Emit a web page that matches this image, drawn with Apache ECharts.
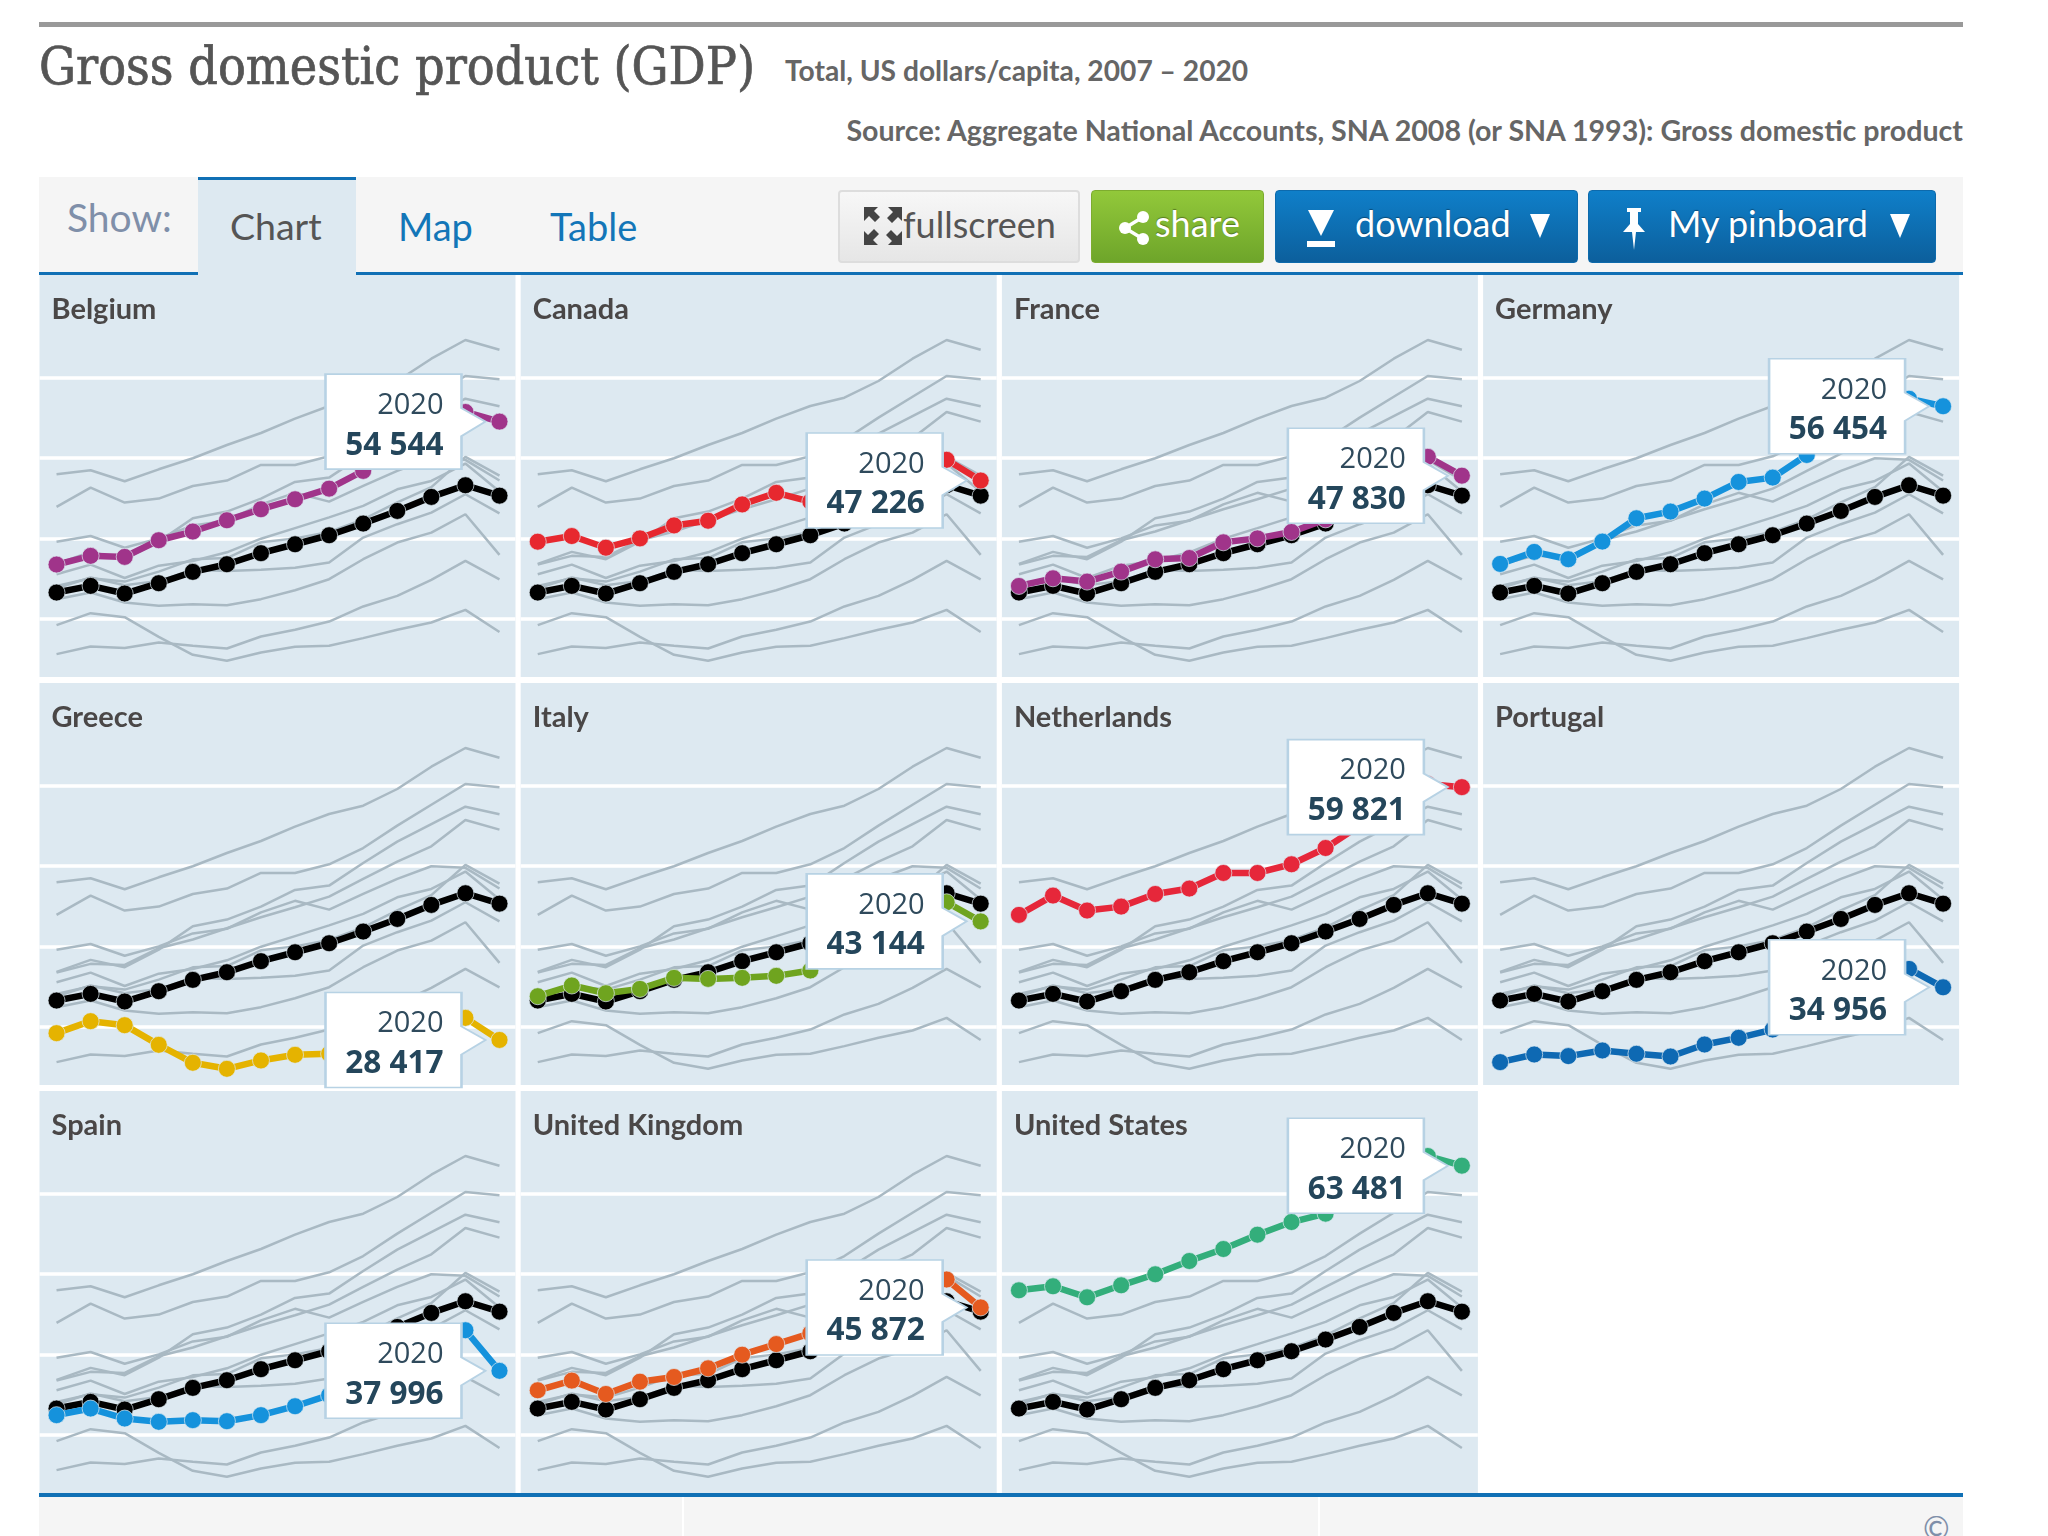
<!DOCTYPE html>
<html lang="en">
<head>
<meta charset="UTF-8">
<title>Gross domestic product (GDP)</title>
<script src="https://cdn.jsdelivr.net/npm/echarts@6/dist/echarts.min.js"></script>
<style>
    html, body { margin: 0; padding: 0; background: #fff; }
    #page { position: relative; width: 2048px; height: 1536px; overflow: hidden; font-family: Lato, "Open Sans", sans-serif; }
    #main { position: absolute; left: 0; top: 0; width: 2048px; height: 1536px; }
    .abs { position: absolute; white-space: nowrap; }
    .btn { position: absolute; top: 190px; height: 73px; border-radius: 4px; box-sizing: border-box; line-height: 65px; font-size: 36px; color: #fff; text-shadow: 0 -1px 1px rgba(0,0,0,.35); white-space: nowrap; }
    .btn svg, .btn span { position: absolute; }
    .blue { background: linear-gradient(#0f7fc9, #0c5f9c); border: 1px solid #0d6aac; }
</style>
</head>
<body>
<div id="page">
    <div class="abs" style="left:39px;top:22px;width:1924px;height:5px;background:#999"></div>
    <div class="abs" style="left:39px;top:34px;font:51.5px 'DejaVu Serif Condensed','DejaVu Serif',serif;color:#555;line-height:64px;-webkit-text-stroke:0.7px #555">Gross domestic product (GDP)</div>
    <div class="abs" style="left:785px;top:52px;font-size:28.2px;font-weight:700;color:#666;line-height:36px">Total, US dollars/capita, 2007 – 2020</div>
    <div class="abs" style="right:85px;top:111px;font-size:28.6px;font-weight:700;color:#666;line-height:38px">Source: Aggregate National Accounts, SNA 2008 (or SNA 1993): Gross domestic product</div>

    <div class="abs" style="left:39px;top:177px;width:1924px;height:95px;background:#f5f5f5"></div>
    <div class="abs" style="left:39px;top:272px;width:1924px;height:3px;background:#1070b5"></div>
    <div class="abs" style="left:198px;top:177px;width:158px;height:98px;background:#dde9f1;border-top:3px solid #1070b5;box-sizing:border-box"></div>
    <div class="abs" style="left:67px;top:195px;font-size:39px;color:#7f8fa9;line-height:44px">Show:</div>
    <div class="abs" style="left:230px;top:203px;font-size:37.5px;color:#555;line-height:46px">Chart</div>
    <div class="abs" style="left:398px;top:203px;font-size:38px;color:#1376b8;line-height:46px">Map</div>
    <div class="abs" style="left:550px;top:203px;font-size:38px;color:#1376b8;line-height:46px">Table</div>

    <div class="btn" style="left:838px;width:242px;background:linear-gradient(#f7f7f7,#e6e6e6);border:2px solid #ddd;color:#555;text-shadow:none">
        <svg style="left:24px;top:15px" width="38" height="38" viewBox="0 0 38 38" fill="#444"><path d="M0 0h14l-4 4 6 6-5 5-6-6-5 5zM38 0v14l-4-4-6 6-5-5 6-6-5-5zM0 38V24l4 4 6-6 5 5-6 6 5 5zM38 38H24l4-4-6-6 5-5 6 6 5-5z"/></svg>
        <span style="left:63px">fullscreen</span>
    </div>
    <div class="btn" style="left:1091px;width:173px;background:linear-gradient(#92c83a,#6ea52a);border:1px solid #7dac2f">
        <svg style="left:27px;top:20px" width="30" height="34" viewBox="0 0 30 34" fill="#fff"><circle cx="6" cy="17" r="6"/><circle cx="24" cy="6" r="6"/><circle cx="24" cy="28" r="6"/><path d="M6 17L24 6M6 17l18 11" stroke="#fff" stroke-width="3.5"/></svg>
        <span style="left:63px">share</span>
    </div>
    <div class="btn blue" style="left:1275px;width:303px">
        <svg style="left:30px;top:19px" width="30" height="38" viewBox="0 0 30 38" fill="#fff"><path d="M2 0h26L15 26zM1 31h28v6H1z"/></svg>
        <span style="left:79px">download</span>
        <svg style="left:254px;top:23px" width="20" height="24" viewBox="0 0 20 24" fill="#fff"><path d="M0 0h20L10 24z"/></svg>
    </div>
    <div class="btn blue" style="left:1588px;width:348px">
        <svg style="left:33px;top:17px" width="24" height="42" viewBox="0 0 24 42" fill="#fff"><path d="M5 0h14v4h-3v12l7 8H1l7-8V4H5zM10 24h4l-2 18z"/></svg>
        <span style="left:79px">My pinboard</span>
        <svg style="left:301px;top:23px" width="20" height="24" viewBox="0 0 20 24" fill="#fff"><path d="M0 0h20L10 24z"/></svg>
    </div>

    <div class="abs" style="left:39px;top:1493px;width:1924px;height:4px;background:#1070b5"></div>
    <div class="abs" style="left:39px;top:1497px;width:1924px;height:39px;background:#f5f5f5"></div>
    <div class="abs" style="left:682px;top:1497px;width:2px;height:39px;background:#fff"></div>
    <div class="abs" style="left:1318px;top:1497px;width:2px;height:39px;background:#fff"></div>
    <div class="abs" style="left:1923px;top:1510px;font-size:32px;color:#7f8fa9;line-height:36px">©</div>

    <div id="main"></div>
</div>

<script>
    const years = [2007,2008,2009,2010,2011,2012,2013,2014,2015,2016,2017,2018,2019,2020];

    // values, the 2020 ones are the printed labels
    const belgium = [36790,37870,37740,39810,40890,42290,43660,44900,46220,48420,50570,52470,55740,54544];
    const canada = [39630,40330,38880,40040,41650,42230,44260,45700,44610,46550,48420,49990,49800,47226];
    const france = [34130,35080,34670,35910,37440,37600,39550,40040,40830,42400,44500,46400,50170,47830];
    const germany = [36870,38360,37450,39640,42540,43370,44980,47050,47590,50400,53050,55240,57390,56454];
    const greece = [29260,30750,30250,27810,25580,24830,25870,26570,26700,27650,28680,29590,31160,28417];
    const italy = [33850,35180,34220,34760,36130,36000,36130,36380,37040,40140,41800,43240,45520,43144];
    const netherlands = [43950,46350,44490,44980,46550,47220,49160,49160,50240,52260,55040,57640,60210,59821];
    const portugal = [25660,26610,26410,27110,26700,26360,27850,28680,29710,31580,32900,34890,37240,34956];
    const spain = [32490,33310,32070,31660,31870,31740,32490,33600,34970,37450,39520,40760,43040,37996];
    const unitedKingdom = [35580,36780,35120,36650,37230,38310,40000,41320,42650,44070,46140,47170,49340,45872];
    const unitedStates = [48000,48500,47130,48620,49990,51640,53130,54910,56480,57520,59590,62360,64680,63481];
    const oecdTotal = [33310,34140,33190,34470,35880,36830,38200,39310,40430,41880,43450,45190,46640,45350];

    const countryNames = ['Belgium','Canada','France','Germany','Greece','Italy','Netherlands','Portugal','Spain','United Kingdom','United States'];
    const countryValues = [belgium,canada,france,germany,greece,italy,netherlands,portugal,spain,unitedKingdom,unitedStates];
    const countryColors = ['#a0348a','#e7282f','#a0348a','#1592dc','#e5b300','#6fa41f','#e6273a','#0e69b3','#1592dc','#e55a1f','#33ae7b'];

    const axisMin = 20000;
    const axisMax = 70000;
    const axisStep = 10000;
    // the panels run half a year past the first and the last point
    const yearMin = 2006.5;
    const yearMax = 2020.47;

    const panelW = 476, panelH = 402, stepX = 481.2, stepY = 408;
    const boxPath = 'path://M0 0H136V34L160 47.5L136 62V95H0Z';

    const grids = [], xAxes = [], yAxes = [], series = [], titles = [], rects = [];

    const pairs = function (vals) {
        return vals.map(function (v, k) { return [years[k], v]; });
    };

    countryNames.forEach(function (name, i) {
        const col = i % 4, row = Math.floor(i / 4);
        const left = 39.5 + col * stepX, top = 275 + row * stepY;

        rects.push({
            type: 'rect', z: -10, silent: true,
            shape: { x: left, y: top, width: panelW, height: panelH },
            style: { fill: '#dde9f1' }
        });
        titles.push({
            text: name, left: left + 7, top: top + 15,
            textStyle: { fontFamily: 'Lato', fontWeight: 700, fontSize: 29, color: '#4a4747' }
        });
        grids.push({ left: left, top: top + 22.2, width: panelW, height: 402.5 });
        xAxes.push({ gridIndex: i, type: 'value', min: yearMin, max: yearMax, show: false, splitLine: { show: false } });
        yAxes.push({
            gridIndex: i, type: 'value', min: axisMin, max: axisMax, interval: axisStep,
            axisLine: { show: false }, axisTick: { show: false }, axisLabel: { show: false },
            splitLine: { show: true, showMinLine: false, showMaxLine: false, lineStyle: { color: '#fff', width: 3.5 } }
        });

        // all countries in grey behind
        countryValues.forEach(function (vals, j) {
            series.push({
                type: 'line', name: countryNames[j], xAxisIndex: i, yAxisIndex: i, data: pairs(vals),
                showSymbol: false, silent: true, z: 2,
                lineStyle: { color: '#a9b9c3', width: 2.5 }
            });
        });

        series.push({
            type: 'line', name: 'OECD', xAxisIndex: i, yAxisIndex: i, data: pairs(oecdTotal),
            symbol: 'circle', symbolSize: 17, showAllSymbol: true, silent: true, z: 3,
            lineStyle: { color: '#000', width: 6.5 },
            itemStyle: { color: '#000', borderColor: 'rgba(221,233,241,0.7)', borderWidth: 1 }
        });

        const vals = countryValues[i];
        const last = vals.length - 1;
        series.push({
            type: 'line', name: name, xAxisIndex: i, yAxisIndex: i, data: pairs(vals),
            symbol: 'circle', symbolSize: 17, showAllSymbol: true, silent: true, z: 4,
            lineStyle: { color: countryColors[i], width: 6.5 },
            itemStyle: { color: countryColors[i], borderColor: 'rgba(221,233,241,0.7)', borderWidth: 1 },
            markPoint: {
                silent: true, z: 6,
                symbol: boxPath, symbolSize: [160, 95], symbolOffset: [-94, 0],
                itemStyle: { color: '#fff', borderColor: '#b7d2e4', borderWidth: 2 },
                label: {
                    show: true, position: 'inside', offset: [-14, 4],
                    formatter: function (p) {
                        const txt = String(p.value).replace(/(\d)(\d{3})$/, '$1 $2');
                        return '{y|' + years[last] + '}\n{v|' + txt + '}';
                    },
                    rich: {
                        y: { width: 104, align: 'right', fontFamily: 'Open Sans', fontSize: 29, lineHeight: 40, color: '#2f4a5c' },
                        v: { width: 104, align: 'right', fontFamily: 'Open Sans', fontWeight: 700, fontSize: 31.5, lineHeight: 40, color: '#24465b' }
                    }
                },
                data: [{ coord: [years[last], vals[last]], value: vals[last] }]
            }
        });
    });

    const myChart = echarts.init(document.getElementById('main'), null, { width: 2048, height: 1536 });
    myChart.setOption({
        animation: false,
        backgroundColor: 'transparent',
        tooltip: { show: false },
        title: titles,
        graphic: rects,
        grid: grids,
        xAxis: xAxes,
        yAxis: yAxes,
        series: series
    });
</script>
</body>
</html>
